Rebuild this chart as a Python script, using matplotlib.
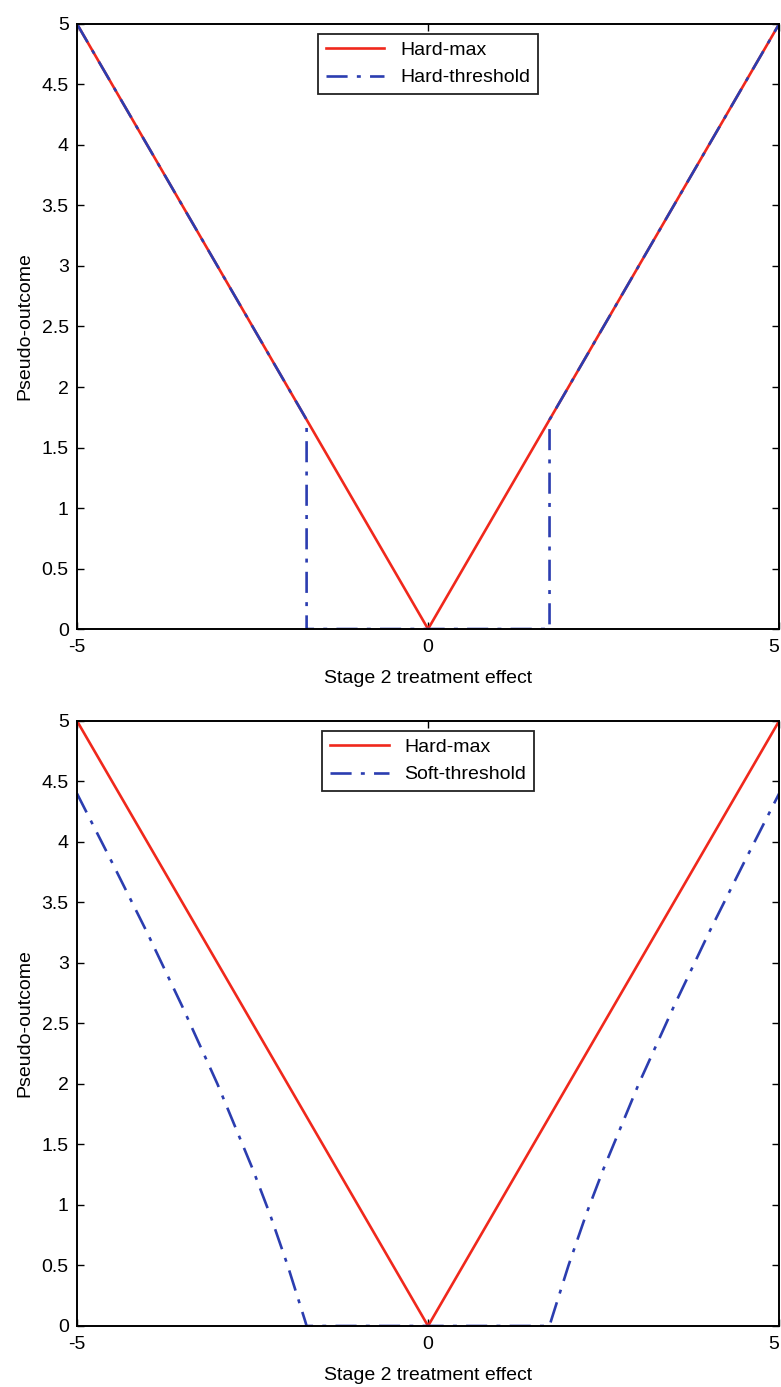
# Hard-max vs hard / soft threshold pseudo-outcomes

import matplotlib.pyplot as plt

plt.rcParams['font.family'] = ['Liberation Sans', 'DejaVu Sans']
plt.rcParams['axes.unicode_minus'] = False

# Hard-max: |x|
hardmax_x = [-5, 0, 5]
hardmax_y = [5, 0, 5]

# Hard-threshold (jump at about +/-1.73)
hard_x = [-5, -1.73, -1.73, 1.73, 1.73, 5]
hard_y = [5, 1.73, 0, 0, 1.73, 5]

# Soft-threshold
soft_x = [-5, -4.5, -4, -3.5, -3, -2.5, -2.25, -2, -1.75, -1.73,
          1.73, 1.75, 2, 2.25, 2.5, 3, 3.5, 4, 4.5, 5]
soft_y = [4.4, 3.83, 3.25, 2.64, 2.0, 1.3, 0.92, 0.5, 0.04, 0,
          0, 0.04, 0.5, 0.92, 1.3, 2.0, 2.64, 3.25, 3.83, 4.4]

x_ticks = [-5, 0, 5]
y_ticks = [0, 0.5, 1, 1.5, 2, 2.5, 3, 3.5, 4, 4.5, 5]
y_ticklabels = ['0', '0.5', '1', '1.5', '2', '2.5', '3', '3.5', '4', '4.5', '5']

red = '#f0281c'
blue = '#2b3db0'

fig = plt.figure(figsize=(7.81, 13.87), dpi=100)
fig.set_facecolor('white')
ax1 = fig.add_axes([0.0986, 0.5465, 0.899, 0.4362])
ax2 = fig.add_axes([0.0986, 0.0440, 0.899, 0.4362])

panels = [(ax1, hard_x, hard_y, 'Hard-threshold'),
          (ax2, soft_x, soft_y, 'Soft-threshold')]

for ax, bx, by, name in panels:
    ax.plot(hardmax_x, hardmax_y, color=red, lw=1.9, label='Hard-max')
    ax.plot(bx, by, color=blue, lw=1.9, linestyle='-.', dashes=(8, 3.5, 1.5, 3.5),
            label=name)
    ax.set_xlim(-5, 5)
    ax.set_ylim(0, 5)
    ax.set_xticks(x_ticks)
    ax.set_yticks(y_ticks)
    ax.set_yticklabels(y_ticklabels)
    ax.tick_params(direction='in', top=True, right=True, length=5,
                   labelsize=14, width=1)
    ax.tick_params(axis='x', pad=7)
    ax.tick_params(axis='y', pad=6)
    # last x label sits against the right edge, as in the original
    ax.get_xticklabels()[-1].set_horizontalalignment('right')
    for s in ax.spines.values():
        s.set_linewidth(1.4)
    ax.set_xlabel('Stage 2 treatment effect', fontsize=14, labelpad=10)
    ax.set_ylabel('Pseudo-outcome', fontsize=14, labelpad=6)
    leg = ax.legend(loc='upper center', fontsize=14, fancybox=False,
                    framealpha=1, edgecolor='#222222', handlelength=3.0,
                    borderaxespad=0.5, labelspacing=0.5, borderpad=0.4)
    leg.get_frame().set_linewidth(1.3)

fig.savefig('out.png', dpi=100)
